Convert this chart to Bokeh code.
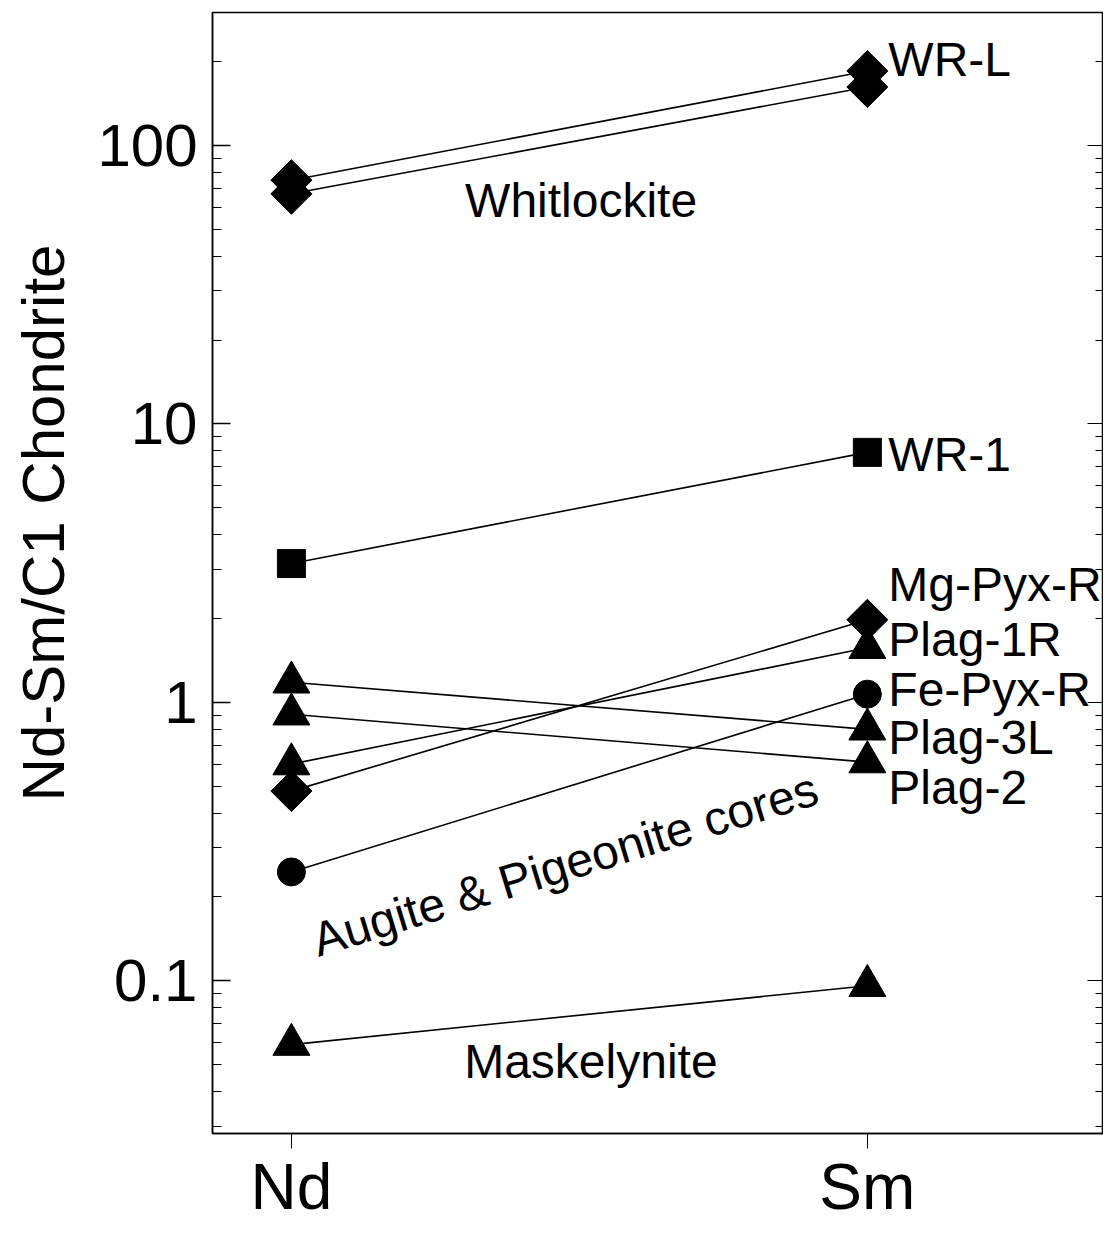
import math
from bokeh.plotting import figure
from bokeh.models import (Range1d, FixedTicker, CustomJSTickFormatter, LogAxis,
                          ColumnDataSource)
from bokeh.core.properties import value
from bokeh.embed import file_html
from bokeh.resources import INLINE

# ---------------- data ----------------
elements = ["Nd", "Sm"]
element_x = [1, 2]

series_names = ["Whitlockite-a", "Whitlockite-b", "WR-1", "Mg-Pyx-R", "Plag-1R",
                "Fe-Pyx-R", "Plag-3L", "Plag-2", "Maskelynite"]
nd_values = [75, 67, 3.15, 0.48, 0.60, 0.246, 1.18, 0.906, 0.059]
sm_values = [185, 162, 7.9, 1.98, 1.57, 1.07, 0.80, 0.61, 0.096]
series_markers = ["diamond", "diamond", "square", "diamond", "triangle",
                  "circle", "triangle", "triangle", "triangle"]

y_major_ticks = [0.1, 1, 10, 100]

right_labels = ["WR-L", "WR-1", "Mg-Pyx-R", "Plag-1R", "Fe-Pyx-R", "Plag-3L", "Plag-2"]
right_label_y = [204, 7.74, 2.65, 1.68, 1.11, 0.75, 0.496]

group_labels = ["Whitlockite", "Maskelynite", "Augite & Pigeonite cores"]
group_label_x = [1.503, 1.52, 1.475]
group_label_y = [63.5, 0.0513, 0.262]
group_label_angle_deg = [0, 0, 17]

# ---------------- figure ----------------
FONT = "Liberation Sans"
p = figure(width=1103, height=1225, output_backend="svg", toolbar_location=None,
           y_axis_type="log",
           x_range=Range1d(0.863, 2.41), y_range=Range1d(0.0283, 300),
           min_border_left=212, min_border_top=12, min_border_right=0,
           min_border_bottom=0)
p.background_fill_color = "white"
p.border_fill_color = "white"
p.grid.visible = False
p.outline_line_color = "black"
p.outline_line_width = 1.5

# minor tick positions for the log axis
minor = []
for dec in [0.01, 0.1, 1, 10, 100]:
    for m in range(2, 10):
        minor.append(m * dec)
yticker = FixedTicker(ticks=y_major_ticks, minor_ticks=minor)

NBSP = "\u00a0"
ya = p.yaxis[0]
ya.ticker = yticker
ya.formatter = CustomJSTickFormatter(code="return tick.toString();")
ya.axis_label = NBSP * 6 + "Nd-Sm/C1 Chondrite"
ya.axis_label_text_font = FONT
ya.axis_label_text_font_size = "60px"
ya.axis_label_text_font_style = "normal"
ya.axis_label_text_color = "black"
ya.axis_label_standoff = 17
ya.major_label_text_font = FONT
ya.major_label_text_font_size = "60px"
ya.major_label_text_color = "black"
ya.major_label_standoff = 15
ya.major_tick_in = 18
ya.major_tick_out = 0
ya.minor_tick_in = 9
ya.minor_tick_out = 0
ya.axis_line_width = 1.5
ya.major_tick_line_width = 1.5

ra = LogAxis(ticker=yticker, major_tick_in=16, major_tick_out=0,
             minor_tick_in=8, minor_tick_out=0,
             major_label_overrides={t: "" for t in y_major_ticks},
             major_label_standoff=0, axis_line_color=None)
p.add_layout(ra, "right")

xa = p.xaxis[0]
xa.ticker = FixedTicker(ticks=element_x)
xa.major_label_overrides = {x: e for x, e in zip(element_x, elements)}
xa.major_label_text_font = FONT
xa.major_label_text_font_size = "64px"
xa.major_label_text_color = "black"
xa.major_label_standoff = 2
xa.major_tick_in = 0
xa.major_tick_out = 15
xa.minor_tick_line_color = None
xa.axis_line_width = 1.5

# ---------------- lines & markers ----------------
for nd, sm in zip(nd_values, sm_values):
    p.line(element_x, [nd, sm], line_color="black", line_width=1.6)

marker_style = {
    "diamond": dict(marker="square", size=29, angle=math.pi / 4),
    "square": dict(marker="square", size=28, angle=0),
    "triangle": dict(marker="triangle", size=37, angle=0),
    "circle": dict(marker="circle", size=28, angle=0),
}
for nd, sm, mk in zip(nd_values, sm_values, series_markers):
    st = marker_style[mk]
    p.scatter(element_x, [nd, sm], marker=st["marker"], size=st["size"],
              angle=st["angle"], fill_color="black", line_color="black")

# ---------------- labels ----------------
rsrc = ColumnDataSource(dict(x=[element_x[1]] * len(right_labels), y=right_label_y,
                             text=right_labels))
p.text(x="x", y="y", text="text", source=rsrc, x_offset=21,
       text_font=value(FONT), text_font_size="48px", text_align="left",
       text_baseline="middle", text_color="black")

gsrc = ColumnDataSource(dict(x=group_label_x, y=group_label_y, text=group_labels,
                             angle=[math.radians(a) for a in group_label_angle_deg]))
p.text(x="x", y="y", text="text", angle="angle", source=gsrc,
       text_font=value(FONT), text_font_size="48px", text_align="center",
       text_baseline="middle", text_color="black")

open("out.html", "w").write(file_html(p, INLINE))
